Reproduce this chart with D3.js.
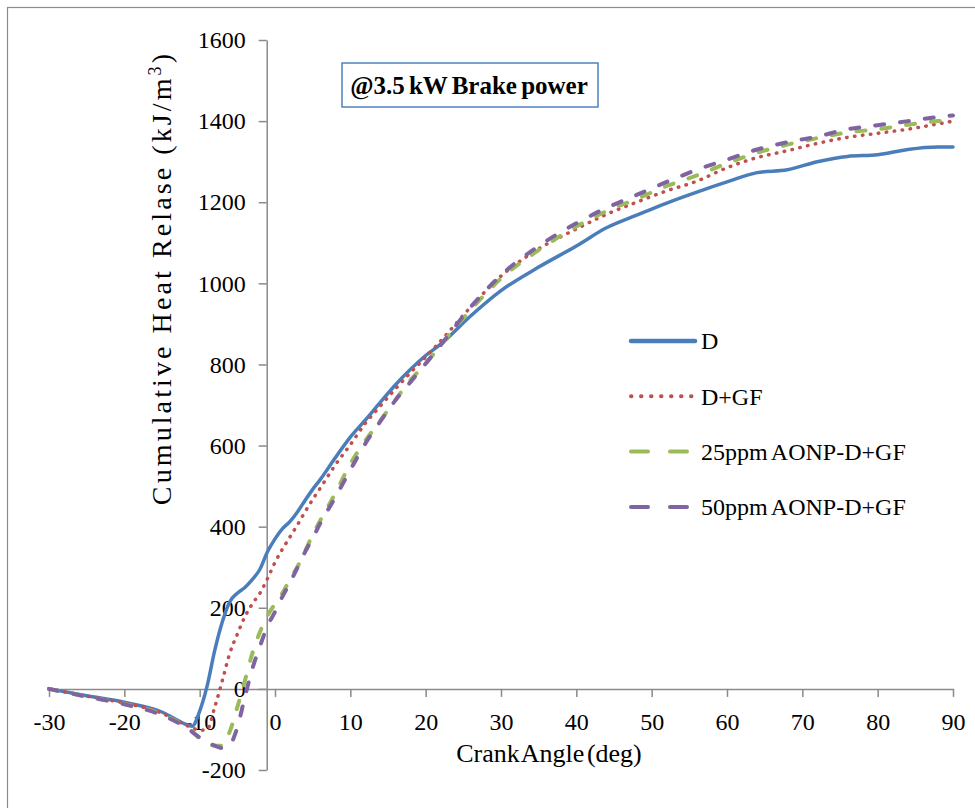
<!DOCTYPE html>
<html>
<head>
<meta charset="utf-8">
<script src="https://cdn.jsdelivr.net/npm/d3@7"></script>
<style>
  body { margin: 0; background: #fff; }
  svg { display: block; font-family: "Liberation Serif", "Times New Roman", serif; }
</style>
</head>
<body>
<div id="chart"></div>
<script>
// crank angle (deg), shared by all four series
const crankAngle = [-30, -25, -20, -15, -12, -11, -10, -9, -8, -7, -6, -5, -4, -3, -2, -1, 0, 1, 2, 3, 4, 5, 6,
  8, 10, 12, 14, 16, 18, 20, 22, 26, 30, 35, 40, 44, 48, 52, 56, 60, 64, 68, 72, 76, 80, 84, 88, 90];

// cumulative heat release (kJ/m3)
const heatD = [0, -17, -33, -57, -86, -92, -55, 8, 95, 165, 215, 236, 250, 270, 295, 338, 370, 395, 413, 437, 465, 492, 516,
  570, 621, 663, 707, 750, 788, 822, 850, 920, 982, 1040, 1092, 1137, 1168, 1198, 1225, 1250, 1273, 1280, 1300, 1313, 1317, 1330, 1336, 1336];
const heatDGF = [0, -18, -35, -60, -88, -96, -102, -100, -45, 20, 88, 135, 178, 210, 236, 272, 312, 345, 375, 405, 437, 467, 495,
  552, 602, 655, 698, 740, 780, 818, 858, 942, 1018, 1085, 1134, 1170, 1200, 1228, 1252, 1285, 1310, 1327, 1345, 1360, 1370, 1380, 1393, 1400];
const heat25ppm = [0, -19, -37, -63, -92, -105, -122, -133, -140, -140, -105, -45, 20, 88, 140, 180, 210, 237, 270, 302, 340, 380, 415,
  482, 555, 612, 662, 713, 762, 802, 848, 935, 1012, 1082, 1140, 1178, 1208, 1240, 1266, 1296, 1322, 1342, 1358, 1372, 1380, 1391, 1400, 1403];
const heat50ppm = [0, -19, -38, -65, -93, -106, -120, -130, -140, -146, -138, -95, -20, 50, 105, 155, 190, 228, 262, 300, 338, 372, 408,
  472, 540, 605, 660, 712, 757, 802, 848, 942, 1020, 1092, 1148, 1186, 1218, 1250, 1280, 1305, 1330, 1348, 1362, 1380, 1390, 1400, 1410, 1414];

const seriesNames = ['D', 'D+GF', '25ppm AONP-D+GF', '50ppm AONP-D+GF'];
const xTicks = [-30, -20, -10, 0, 10, 20, 30, 40, 50, 60, 70, 80, 90];
const yTicks = [-200, 0, 200, 400, 600, 800, 1000, 1200, 1400, 1600];

const width = 975, height = 808;

const styles = [
  {color: '#4a7ebb', width: 3.5, dash: null, legendDash: null},
  {color: '#c0504d', width: 3.5, dash: '0.5,7.5', legendDash: '0.5,9.5'},
  {color: '#9bbb59', width: 4, dash: '9,16', legendDash: '17,22'},
  {color: '#8064a2', width: 4, dash: '9,16', legendDash: '17,22'}
];

const series = [heatD, heatDGF, heat25ppm, heat50ppm].map((vals, i) => ({
  name: seriesNames[i],
  points: crankAngle.map((a, j) => [a, vals[j]])
}));

const svg = d3.select('#chart').append('svg')
  .attr('width', width)
  .attr('height', height);

// outer chart frame
svg.append('rect')
  .attr('x', 7.5).attr('y', 7.5)
  .attr('width', width).attr('height', height)
  .attr('fill', 'none')
  .attr('stroke', '#8c8c8c')
  .attr('stroke-width', 1.2);

const x = d3.scaleLinear().domain([-30, 90]).range([49, 953]);
const y = d3.scaleLinear().domain([-200, 1600]).range([770, 40]);

// axes
const axisColor = '#8a8a8a';

const xAxis = svg.append('g')
  .attr('transform', 'translate(0,' + y(0) + ')')
  .call(d3.axisBottom(x).tickValues(xTicks).tickFormat(d => String(d)).tickSize(8).tickSizeOuter(0).tickPadding(16));

const yAxis = svg.append('g')
  .attr('transform', 'translate(' + x(-1.1) + ',0)')
  .call(d3.axisLeft(y).tickValues(yTicks).tickFormat(d => String(d)).tickSize(8).tickSizeOuter(0).tickPadding(13));

[xAxis, yAxis].forEach(g => {
  g.select('.domain').attr('stroke', axisColor).attr('stroke-width', 1.5);
  g.selectAll('.tick line').attr('stroke', axisColor).attr('stroke-width', 1.5);
  g.selectAll('.tick text')
    .attr('fill', '#000')
    .style('font-family', '"Liberation Serif", serif')
    .style('font-size', '24px');
});

// series lines
const line = d3.line()
  .x(d => x(d[0]))
  .y(d => y(d[1]))
  .curve(d3.curveMonotoneX);

svg.append('g').selectAll('path')
  .data(series)
  .join('path')
  .attr('d', d => line(d.points))
  .attr('fill', 'none')
  .attr('stroke', (d, i) => styles[i].color)
  .attr('stroke-width', (d, i) => styles[i].width)
  .attr('stroke-linecap', 'round')
  .attr('stroke-linejoin', 'round')
  .attr('stroke-dasharray', (d, i) => styles[i].dash);

// axis titles
svg.append('text')
  .attr('x', 549).attr('y', 762)
  .attr('text-anchor', 'middle')
  .style('font-size', '26px')
  .style('word-spacing', '-4px')
  .text('Crank Angle (deg)');

const yTitle = svg.append('text')
  .attr('transform', 'translate(171,278) rotate(-90)')
  .attr('text-anchor', 'middle')
  .style('font-size', '28px')
  .style('letter-spacing', '3.1px');
yTitle.append('tspan').text('Cumulative Heat Relase (kJ/m');
yTitle.append('tspan').attr('baseline-shift', 'super').style('font-size', '18px').text('3');
yTitle.append('tspan').text(')');

// annotation box
svg.append('rect')
  .attr('x', 342).attr('y', 63)
  .attr('width', 256).attr('height', 44)
  .attr('fill', '#fff')
  .attr('stroke', '#4f81bd')
  .attr('stroke-width', 1.5);

svg.append('text')
  .attr('x', 469).attr('y', 94)
  .attr('text-anchor', 'middle')
  .style('font-size', '25px')
  .style('font-weight', 'bold')
  .style('word-spacing', '-2px')
  .text('@3.5 kW Brake power');

// legend
const legend = svg.append('g');
const legendItems = legend.selectAll('g')
  .data(series)
  .join('g')
  .attr('transform', (d, i) => 'translate(0,' + (341 + i * 55.3) + ')');

legendItems.append('line')
  .attr('x1', 631).attr('x2', 695)
  .attr('stroke', (d, i) => styles[i].color)
  .attr('stroke-width', (d, i) => i === 0 ? 4.5 : 4)
  .attr('stroke-linecap', 'round')
  .attr('stroke-dasharray', (d, i) => styles[i].legendDash);

legendItems.append('text')
  .attr('x', 701)
  .attr('dy', '0.35em')
  .style('font-size', '24px')
  .style('word-spacing', '-1.5px')
  .text(d => d.name);
</script>
</body>
</html>
